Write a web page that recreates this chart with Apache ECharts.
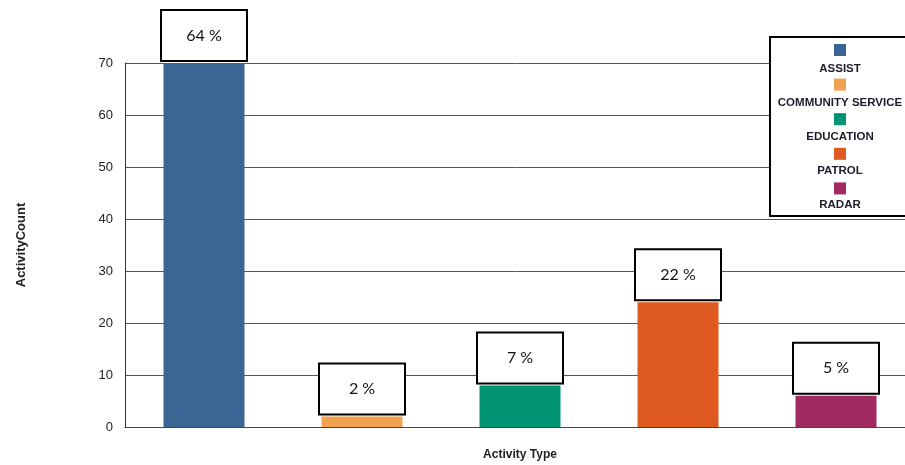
<!DOCTYPE html>
<html>
<head>
<meta charset="utf-8">
<script src="https://cdn.jsdelivr.net/npm/echarts@6/dist/echarts.min.js"></script>
<style>html,body{margin:0;padding:0;background:#fff}#c{width:905px;height:465px}</style>
</head>
<body>
<div id="c"></div>
<script>
var categories = ['ASSIST', 'COMMUNITY SERVICE', 'EDUCATION', 'PATROL', 'RADAR'];
var counts = [70, 2, 8, 24, 6];
var percentLabels = ['64 %', '2 %', '7 %', '22 %', '5 %'];
var colors = ['#3b6595', '#f0a24f', '#009473', '#de5a20', '#a12b60'];
var yTicks = { min: 0, max: 70, interval: 10 };

var chart = echarts.init(document.getElementById('c'), null, { renderer: 'canvas' });

var series = categories.map(function (name, i) {
  var data = categories.map(function (c, j) { return j === i ? counts[i] : '-'; });
  return {
    name: name,
    type: 'bar',
    stack: 'all',
    barWidth: 81,
    data: data,
    itemStyle: { color: colors[i] },
    label: {
      show: true,
      position: 'top',
      distance: 3,
      formatter: function (p) { return percentLabels[p.dataIndex]; },
      width: 84,
      height: 49,
      lineHeight: 49,
      align: 'center',
      backgroundColor: '#fff',
      borderColor: '#000',
      borderWidth: 2,
      color: '#111',
      fontFamily: 'Lato, "Open Sans", sans-serif',
      fontSize: 16
    }
  };
});

chart.setOption({
  animation: false,
  backgroundColor: '#fff',
  color: colors,
  grid: { left: 125, top: 63, height: 364, width: 790, containLabel: false, outerBoundsMode: 'none' },
  xAxis: {
    type: 'category',
    data: categories,
    name: 'Activity Type',
    nameLocation: 'middle',
    nameGap: 22,
    nameTextStyle: { fontFamily: 'Liberation Sans, Arial', fontWeight: 'bold', fontSize: 12, color: '#222' },
    axisLabel: { show: false },
    axisTick: { show: false },
    axisLine: { lineStyle: { color: '#444', width: 1 } }
  },
  yAxis: {
    type: 'value',
    min: yTicks.min,
    max: yTicks.max,
    interval: yTicks.interval,
    name: 'ActivityCount',
    nameLocation: 'middle',
    nameGap: 97,
    nameRotate: 90,
    nameTextStyle: { fontFamily: 'Liberation Sans, Arial', fontWeight: 'bold', fontSize: 13, color: '#222' },
    axisLabel: { fontFamily: 'Liberation Sans, Arial', fontSize: 13, color: '#222', margin: 12 },
    axisTick: { show: false },
    axisLine: { show: true, lineStyle: { color: '#333', width: 1 } },
    splitLine: { lineStyle: { color: '#555', width: 1 } }
  },
  graphic: [{
    type: 'rect',
    z: 3,
    shape: { x: 770, y: 37, width: 140, height: 179 },
    style: { fill: '#fff', stroke: '#000', lineWidth: 2 }
  }],
  legend: [{
    orient: 'vertical',
    left: 829,
    top: 39,
    padding: 5,
    z: 5,
    selectedMode: false,
    icon: 'rect',
    itemWidth: 12,
    itemHeight: 12,
    itemGap: 22.6,
    data: categories,
    formatter: function () { return ''; },
    textStyle: { fontSize: 1 }
  }, {
    orient: 'vertical',
    left: 755,
    top: 58,
    z: 5,
    selectedMode: false,
    icon: 'rect',
    itemWidth: 0,
    itemHeight: 0,
    itemGap: 22,
    data: categories,
    formatter: function (n) { return '{a|' + n + '}'; },
    textStyle: {
      rich: {
        a: { width: 150, align: 'center', fontFamily: 'Liberation Sans, Arial', fontWeight: 'bold', fontSize: 11.5, color: '#1c1c2a', lineHeight: 12 }
      }
    }
  }],
  series: series
});
</script>
</body>
</html>
